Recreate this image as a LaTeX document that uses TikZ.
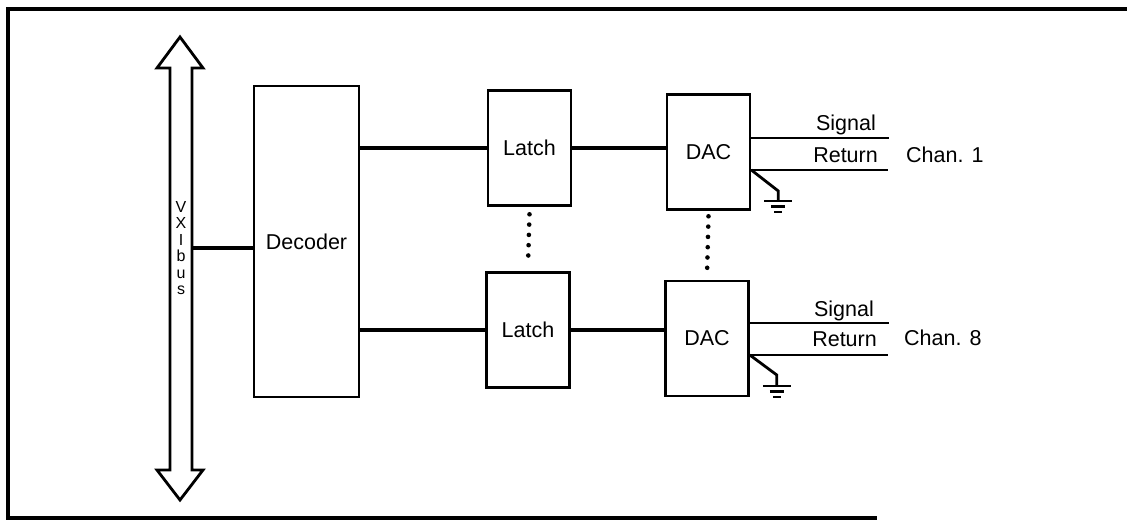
\documentclass[tikz,border=0pt]{standalone}
\usepackage{fontspec}
\setmainfont{Liberation Sans}

\tikzset{
box/.style={draw, line width=2.6pt, inner sep=0pt, minimum width=83pt, minimum height=115pt, font=\fontsize{21.5}{26}\selectfont},
txt/.style={inner sep=0pt, font=\fontsize{21.5}{26}\selectfont},
wire/.style={line width=3.4pt},
lead/.style={line width=2.8pt},
dotline/.style={line width=4.6pt, line cap=round, dash pattern=on 0pt off 10.3pt}
}

\begin{document}
\begin{tikzpicture}[x=1pt, y=-1pt]
\useasboundingbox (0,0) rectangle (1127,526);

% frame
\draw[line width=3.2pt] (1127,9) -- (8,9) -- (8,518) -- (877,518);

% VXI bus
\draw[line width=2.8pt, line join=miter]
(170,68) -- (157,68) -- (180,37) -- (203,68) -- (192,68) -- (192,470)
-- (203,470) -- (180,500) -- (157,470) -- (170,470) -- cycle;

\node[txt, minimum width=22pt, align=center, font=\fontsize{16}{16.5}\selectfont] (bus) at (181,248)
{V\\X\\I\\b\\u\\s};

\node[box, minimum width=105pt, minimum height=311pt] (dec) at (306.5,241.5)
{Decoder};

\node[box] (latch1) at (529.5,148)
{Latch};

\node[box] (latch2) at (528,330)
{Latch};

\node[box] (dac1) at (708.5,152)
{DAC};

\node[box] (dac2) at (707,338.5)
{DAC};

\draw[wire] (bus.east) -- (bus.east -| dec.west);
\draw[wire] (dec.east |- latch1.west) -- (latch1.west);
\draw[wire] (dec.east |- latch2.west) -- (latch2.west);
\draw[wire] (latch1.east) -- (latch1.east -| dac1.west);
\draw[wire] (latch2.east) -- (latch2.east -| dac2.west);

\draw[dotline] ([yshift=-7.5pt]latch1.south) -- ([yshift=6.5pt]latch2.north);
\draw[dotline] ([yshift=-5.5pt]dac1.south) -- ([yshift=4pt]dac2.north);

% channel 1
\coordinate (sig1) at (889,138);
\coordinate (ret1) at (888,170);
\draw[lead] (dac1.east |- sig1) -- (sig1);
\draw[lead] (dac1.east |- ret1) -- (ret1);
\draw[lead] (dac1.east |- ret1) -- ++(27,21) -- ++(0,10) coordinate (gnd1);
\draw[line width=2.5pt] (gnd1) ++(-14,0) -- ++(28,0)
(gnd1) ++(-7,5.5) -- ++(14,0)
(gnd1) ++(-4,11) -- ++(8,0);

\node[txt, anchor=base east] (sigtxt1) at (876,131)
{Signal};
\node[txt, anchor=base east] (rettxt1) at (878,163)
{Return};
\node[txt, anchor=base west] (chan1) at (906,163)
{Chan. 1};

% channel 8
\coordinate (sig8) at (889,323);
\coordinate (ret8) at (888,355);
\draw[lead] (dac2.east |- sig8) -- (sig8);
\draw[lead] (dac2.east |- ret8) -- (ret8);
\draw[lead] (dac2.east |- ret8) -- ++(27,20) -- ++(0,11) coordinate (gnd8);
\draw[line width=2.5pt] (gnd8) ++(-14,0) -- ++(28,0)
(gnd8) ++(-7,5.5) -- ++(14,0)
(gnd8) ++(-4,11) -- ++(8,0);

\node[txt, anchor=base east] (sigtxt8) at (874,317)
{Signal};
\node[txt, anchor=base east] (rettxt8) at (877,347)
{Return};
\node[txt, anchor=base west] (chan8) at (904,346)
{Chan. 8};

\end{tikzpicture}
\end{document}
